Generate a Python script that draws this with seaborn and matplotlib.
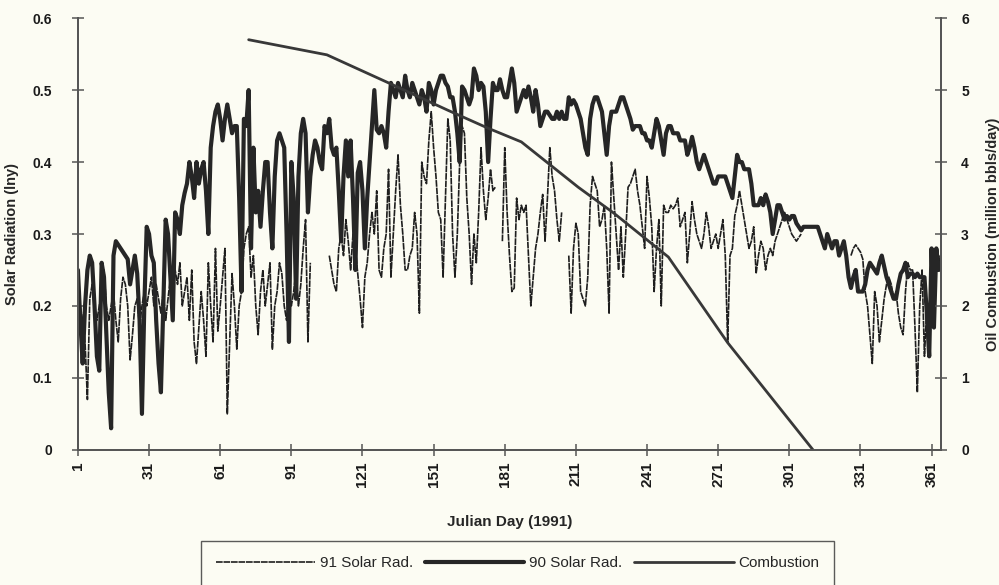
import numpy as np
import pandas as pd
import matplotlib
matplotlib.use("Agg")
import matplotlib.pyplot as plt
import seaborn as sns
from matplotlib.lines import Line2D

nan = np.nan

days = list(range(1, 366))

sr90 = [
0.25,0.18,0.12,0.20,0.25,0.27,0.26,0.20,0.13,0.11,
0.26,0.24,0.16,0.08,0.03,0.27,0.29,0.285,0.28,0.275,
0.27,0.265,0.23,0.25,0.27,0.245,0.18,0.05,0.20,0.31,
0.30,0.27,0.26,0.18,0.12,0.08,0.20,0.32,0.30,0.24,
0.18,0.33,0.32,0.30,0.34,0.357,0.37,0.40,0.38,0.35,
0.40,0.37,0.39,0.40,0.36,0.30,0.42,0.45,0.47,0.48,
0.46,0.43,0.46,0.48,0.46,0.44,0.45,0.45,0.35,0.22,
0.46,0.45,0.50,0.28,0.42,0.33,0.36,0.31,0.36,0.40,
0.40,0.33,0.28,0.38,0.43,0.44,0.43,0.42,0.30,0.15,
0.40,0.35,0.21,0.38,0.44,0.46,0.44,0.33,0.38,0.41,
0.43,0.42,0.40,0.39,0.45,0.44,0.46,0.42,0.41,0.42,
0.36,0.29,0.38,0.43,0.38,0.43,0.35,0.25,0.385,0.40,
0.36,0.28,0.35,0.40,0.45,0.50,0.445,0.44,0.45,0.44,
0.42,0.47,0.51,0.50,0.49,0.51,0.50,0.49,0.52,0.50,
0.49,0.51,0.50,0.49,0.48,0.50,0.49,0.47,0.51,0.50,
0.48,0.50,0.51,0.52,0.52,0.51,0.505,0.49,0.49,0.47,
0.44,0.40,0.505,0.50,0.49,0.48,0.49,0.53,0.52,0.50,
0.51,0.505,0.47,0.40,0.46,0.51,0.50,0.50,0.515,0.50,
0.49,0.49,0.51,0.53,0.51,0.47,0.48,0.49,0.50,0.49,
0.505,0.49,0.47,0.50,0.48,0.45,0.46,0.47,0.47,0.465,
0.46,0.46,0.47,0.46,0.47,0.46,0.46,0.49,0.48,0.486,
0.48,0.47,0.46,0.44,0.42,0.41,0.46,0.48,0.49,0.49,
0.48,0.47,0.44,0.41,0.45,0.47,0.47,0.47,0.48,0.49,
0.49,0.48,0.47,0.46,0.445,0.45,0.45,0.45,0.44,0.44,
0.43,0.43,0.42,0.44,0.46,0.45,0.43,0.41,0.44,0.45,
0.45,0.44,0.44,0.44,0.43,0.43,0.43,0.41,0.42,0.435,
0.42,0.40,0.39,0.40,0.41,0.40,0.39,0.38,0.37,0.37,
0.38,0.38,0.38,0.38,0.37,0.36,0.35,0.38,0.41,0.40,
0.40,0.39,0.39,0.39,0.37,0.34,0.34,0.34,0.35,0.34,
0.355,0.345,0.33,0.30,0.32,0.34,0.34,0.33,0.32,0.325,
0.32,0.325,0.325,0.315,0.31,0.305,0.31,0.31,0.31,0.31,
0.31,0.31,0.31,0.30,0.29,0.28,0.30,0.29,0.28,0.29,
0.29,0.27,0.28,0.29,0.27,0.24,0.225,0.24,0.25,0.22,
0.22,0.22,0.23,0.25,0.26,0.255,0.25,0.245,0.26,0.27,
0.255,0.24,0.23,0.22,0.21,0.21,0.23,0.245,0.25,0.26,
0.24,0.245,0.245,0.24,0.245,0.24,0.24,0.24,0.19,0.13,
0.28,0.17,0.28,0.25,0.26]

sr91 = [
0.22,0.20,0.18,0.15,0.07,0.21,0.23,0.20,0.18,0.20,
0.22,0.25,0.20,0.18,0.20,0.22,0.18,0.15,0.21,0.24,
0.23,0.20,0.125,0.16,0.20,0.21,0.17,0.20,0.22,0.20,
0.22,0.24,0.20,0.23,0.21,0.19,0.22,0.18,0.21,0.24,
0.22,0.25,0.23,0.26,0.20,0.22,0.24,0.18,0.25,0.15,
0.12,0.17,0.22,0.18,0.13,0.26,0.20,0.15,0.28,0.165,
0.20,0.24,0.28,0.05,0.15,0.245,0.20,0.14,0.20,0.22,
0.28,0.30,0.31,0.24,0.27,0.20,0.16,0.22,0.25,0.20,
0.23,0.26,0.14,0.20,0.22,0.26,0.245,0.20,0.18,0.22,
0.20,0.22,0.25,0.20,0.23,0.28,0.32,0.15,0.26,nan,
nan,nan,nan,nan,nan,nan,0.27,0.25,0.23,0.22,
0.28,0.30,0.27,0.32,0.29,0.25,0.30,0.28,0.245,0.21,
0.17,0.24,0.26,0.30,0.33,0.30,0.36,0.25,0.24,0.28,
0.30,0.39,0.24,0.30,0.36,0.41,0.34,0.30,0.25,0.25,
0.27,0.28,0.33,0.30,0.19,0.40,0.38,0.37,0.43,0.47,
0.42,0.38,0.33,0.32,0.24,0.35,0.46,0.43,0.30,0.24,
0.30,0.40,0.45,0.44,0.35,0.30,0.23,0.30,0.26,0.33,
0.42,0.36,0.32,0.35,0.39,0.36,0.365,nan,nan,0.29,
0.42,0.33,0.27,0.22,0.225,0.35,0.32,0.34,0.33,0.34,
0.27,0.20,0.24,0.28,0.30,0.33,0.355,0.29,0.35,0.42,
0.38,0.36,0.32,0.29,0.33,nan,nan,0.27,0.19,0.28,
0.315,0.30,0.22,0.21,0.20,0.24,0.34,0.38,0.37,0.36,
0.31,0.32,0.34,0.28,0.19,0.40,0.35,0.30,0.25,0.31,
0.24,0.30,0.365,0.37,0.38,0.39,0.36,0.34,0.31,0.28,
0.38,0.35,0.31,0.22,0.28,0.32,0.20,0.34,0.33,0.33,
0.34,0.335,0.34,0.35,0.31,0.32,0.33,0.26,0.30,0.345,
0.32,0.30,0.29,0.28,0.30,0.33,0.31,0.28,0.29,0.30,
0.28,0.30,0.32,0.27,0.15,0.27,0.28,0.325,0.34,0.36,
0.34,0.32,0.30,0.28,0.29,0.31,0.245,0.27,0.29,0.28,
0.25,0.27,0.28,0.27,0.29,0.30,0.31,0.32,0.33,0.32,
0.31,0.30,0.295,0.29,0.295,0.30,nan,nan,nan,nan,
nan,nan,nan,nan,nan,nan,nan,nan,nan,nan,
nan,nan,nan,nan,nan,nan,0.27,0.28,0.285,0.28,
0.275,0.265,0.22,0.20,0.16,0.12,0.22,0.20,0.15,0.18,
0.21,0.23,0.24,0.23,0.21,0.22,0.19,0.17,0.16,0.22,
0.26,0.25,0.25,0.17,0.08,0.20,0.25,0.13,0.20,0.14,
0.28,0.20,0.26,0.27,0.25]

comb_days = [73, 106, 132, 157, 174, 188, 212, 227, 250, 275, 311]
comb_vals = [5.70, 5.49, 5.10, 4.72, 4.47, 4.28, 3.65, 3.29, 2.68, 1.49, 0.0]

xticks = [1, 31, 61, 91, 121, 151, 181, 211, 241, 271, 301, 331, 361]

assert len(sr90) == 365 and len(sr91) == 365

df90 = pd.DataFrame({"day": days, "val": sr90})
df91 = pd.DataFrame({"day": days, "val": sr91})
df91["seg"] = df91["val"].isna().cumsum()
df91 = df91.dropna()
dfc = pd.DataFrame({"day": comb_days, "val": comb_vals})

sns.set_theme(style="white")
plt.rcParams["font.family"] = ["Liberation Sans", "DejaVu Sans"]

bg = "#fcfcf3"
ink = "#262626"
thin_style = (0, (4, 0.5))

fig = plt.figure(figsize=(9.99, 5.85), dpi=100, facecolor=bg)
ax = fig.add_axes([0.078, 0.231, 0.864, 0.738])
ax.set_facecolor(bg)

sns.lineplot(data=df91, x="day", y="val", units="seg", estimator=None, ax=ax,
             color="#1e1e1e", linewidth=1.2, linestyle=thin_style, sort=False)
sns.lineplot(data=df90, x="day", y="val", ax=ax, color=ink, linewidth=3.0,
             estimator=None)

ax2 = ax.twinx()
sns.lineplot(data=dfc, x="day", y="val", ax=ax2, color="#383838", linewidth=2.0,
             estimator=None)

ax.set_xlim(1, 365)
ax.set_ylim(0, 0.6)
ax2.set_ylim(0, 6)
ax.set_xticks(xticks)
ax.set_xticklabels([str(t) for t in xticks], rotation=90, fontweight="bold", fontsize=11)
ax.set_yticks([0, 0.1, 0.2, 0.3, 0.4, 0.5, 0.6])
ax.set_yticklabels(["0", "0.1", "0.2", "0.3", "0.4", "0.5", "0.6"], fontweight="bold", fontsize=10)
ax2.set_yticks([0, 1, 2, 3, 4, 5, 6])
ax2.set_yticklabels(["0", "1", "2", "3", "4", "5", "6"], fontweight="bold", fontsize=10)

for a in (ax, ax2):
    a.spines["top"].set_visible(False)
    for s in ("left", "right", "bottom"):
        a.spines[s].set_color("#555555")
        a.spines[s].set_linewidth(1.3)
    a.tick_params(direction="inout", length=9, width=1.1, color="#555555",
                  labelcolor="#1a1a1a", pad=6)
ax.tick_params(axis="y", pad=14, left=True)
ax.tick_params(axis="x", pad=4, bottom=True)
ax2.tick_params(axis="y", pad=10, right=True)

ax.set_xlabel("Julian Day (1991)", fontweight="bold", fontsize=11, labelpad=20)
ax.set_ylabel("Solar Radiation (lny)", fontweight="bold", fontsize=10.5, labelpad=10)
ax2.set_ylabel("Oil Combustion (million bbls/day)", fontweight="bold", fontsize=10.5,
               labelpad=12, rotation=90)

handles = [
    Line2D([], [], color="#1e1e1e", linewidth=1.2, linestyle=thin_style),
    Line2D([], [], color=ink, linewidth=3.0),
    Line2D([], [], color="#383838", linewidth=2.0),
]
leg = fig.legend(handles, ["91 Solar Rad.", "90 Solar Rad.", "Combustion"],
                 loc="upper center", bbox_to_anchor=(0.518, 0.088), ncol=3,
                 handlelength=6.5, handletextpad=0.3, columnspacing=0.8,
                 fontsize=11, frameon=True, fancybox=False, borderpad=1.0,
                 facecolor=bg)
leg.get_frame().set_edgecolor("#333333")
leg.get_frame().set_linewidth(1.0)

fig.savefig("out.png", dpi=100, facecolor=bg)
